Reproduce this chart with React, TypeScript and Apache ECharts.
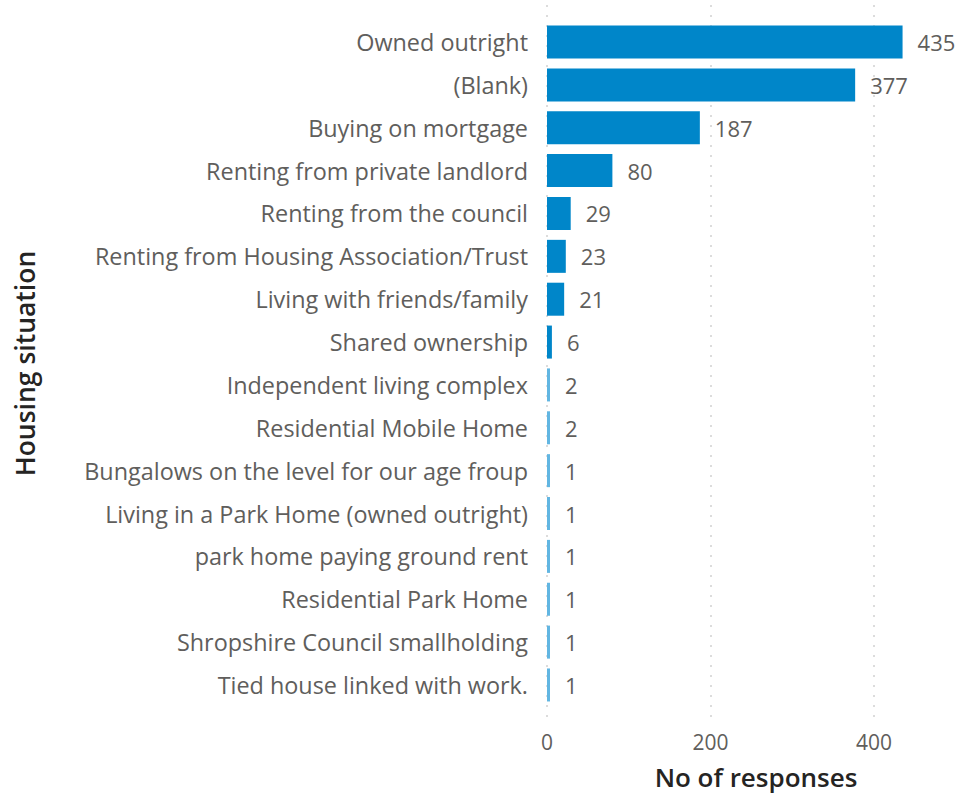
import React, { useEffect, useRef } from "react";
import * as echarts from "echarts";

const categories = [
  "Owned outright",
  "(Blank)",
  "Buying on mortgage",
  "Renting from private landlord",
  "Renting from the council",
  "Renting from Housing Association/Trust",
  "Living with friends/family",
  "Shared ownership",
  "Independent living complex",
  "Residential Mobile Home",
  "Bungalows on the level for our age froup",
  "Living in a Park Home (owned outright)",
  "park home paying ground rent",
  "Residential Park Home",
  "Shropshire Council smallholding",
  "Tied house linked with work.",
];
const values = [435, 377, 187, 80, 29, 23, 21, 6, 2, 2, 1, 1, 1, 1, 1, 1];

const FONT = "'Open Sans', 'Noto Sans', sans-serif";
const GREY = "#605E5C";
const DARK = "#252423";
const GRID_MAX = 400;
const BAR_MAX = 460;

export default function App() {
  const ref = useRef<HTMLDivElement>(null);
  useEffect(() => {
    if (!ref.current) return;
    const chart = echarts.init(ref.current, undefined, { renderer: "svg" });
    chart.setOption({
      animation: false,
      grid: [
        { left: 547, right: 85, top: 5, bottom: 77 },
        { left: 547, right: 36, top: 20.6, bottom: 88.6 },
      ],
      xAxis: [
        {
          gridIndex: 0,
          type: "value",
          min: 0,
          max: GRID_MAX,
          interval: 200,
          axisLine: { show: false },
          axisTick: { show: false },
          splitLine: { show: true, lineStyle: { color: "#DCDCDC", type: [2, 8], width: 2 } },
          axisLabel: {
            color: GREY,
            fontFamily: FONT,
            fontSize: 21,
            margin: 14,
          },
          name: "No of responses",
          nameLocation: "middle",
          nameGap: 47,
          nameTextStyle: {
            color: DARK,
            fontFamily: FONT,
            fontSize: 26,
            fontWeight: 600,
            padding: [0, 0, 0, 91],
          },
        },
        {
          gridIndex: 1,
          type: "value",
          min: 0,
          max: BAR_MAX,
          show: false,
          splitLine: { show: false },
        },
      ],
      yAxis: [
        { gridIndex: 0, type: "value", show: false },
        {
          gridIndex: 1,
          type: "category",
          data: categories,
          inverse: true,
          axisLine: { show: false },
          axisTick: { show: false },
          axisLabel: { color: GREY, fontFamily: FONT, fontSize: 23.4, margin: 19 },
          name: "Housing situation",
          nameLocation: "middle",
          nameGap: 509,
          nameRotate: 90,
          nameTextStyle: { color: DARK, fontFamily: FONT, fontSize: 26.5, fontWeight: 600 },
        },
      ],
      series: [
        {
          type: "bar",
          xAxisIndex: 1,
          yAxisIndex: 1,
          data: values,
          barCategoryGap: "23%",
          barMinHeight: 3,
          itemStyle: {
            color: (p: any) => (p.value < 5 ? "#62B6E2" : "#0086C9"),
          },
          label: {
            show: true,
            position: "right",
            distance: 15,
            color: GREY,
            fontFamily: FONT,
            fontSize: 22,
          },
        },
      ],
    });
    return () => chart.dispose();
  }, []);
  return (
    <div
      ref={ref}
      style={{ position: "fixed", left: 0, top: 0, width: 959, height: 795, background: "#fff" }}
    />
  );
}
